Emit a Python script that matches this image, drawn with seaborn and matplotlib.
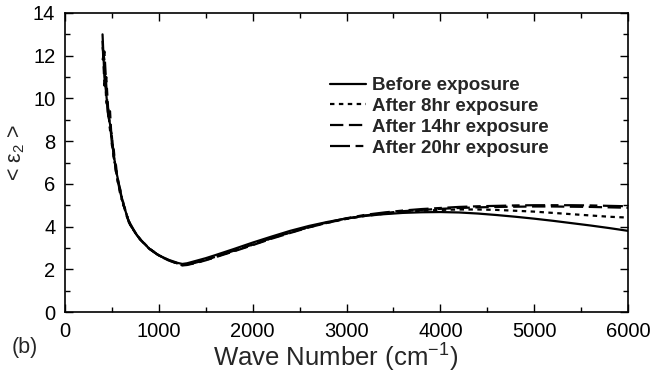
import numpy as np
import pandas as pd
import matplotlib
matplotlib.use("Agg")
import matplotlib.pyplot as plt
import seaborn as sns
from matplotlib.ticker import MultipleLocator

# ---------------- data ----------------
wave_number = [400, 420, 440, 460, 480, 500, 520, 540, 560, 580, 600, 620, 640, 660, 680, 700,
               750, 800, 900, 1000, 1100, 1200, 1250, 1300, 1400, 1500, 1600, 1800, 2000,
               2200, 2400, 2600, 2800, 3000, 3200, 3400, 3600, 3800, 4000, 4200, 4400,
               4600, 4800, 5000, 5200, 5400, 5600, 5800, 6000]

before = [13.0, 11.0, 10.2, 9.2, 8.8, 7.9, 7.4, 6.7, 6.3, 5.8, 5.4, 5.1, 4.8, 4.5, 4.25, 4.05,
          3.7, 3.4, 2.95, 2.65, 2.45, 2.3, 2.25, 2.28, 2.4, 2.52, 2.66, 2.95, 3.25, 3.53, 3.8,
          4.03, 4.22, 4.38, 4.5, 4.58, 4.64, 4.67, 4.68, 4.66, 4.61, 4.54, 4.46, 4.37, 4.27,
          4.16, 4.05, 3.93, 3.8]
after_8hr = [12.4, 11.8, 9.8, 9.6, 8.5, 8.2, 7.1, 6.9, 6.1, 5.9, 5.5, 5.0, 4.85, 4.5, 4.3, 4.0,
             3.72, 3.42, 2.97, 2.66, 2.44, 2.28, 2.2, 2.22, 2.32, 2.44, 2.58, 2.86, 3.15, 3.45,
             3.72, 3.97, 4.18, 4.36, 4.5, 4.6, 4.68, 4.74, 4.78, 4.8, 4.8, 4.78, 4.74, 4.7, 4.64,
             4.58, 4.52, 4.46, 4.42]
after_14hr = [11.8, 12.2, 10.6, 9.1, 9.4, 7.8, 7.6, 6.6, 6.4, 5.7, 5.3, 5.15, 4.75, 4.55, 4.2, 4.05,
              3.7, 3.4, 2.96, 2.64, 2.42, 2.26, 2.18, 2.2, 2.3, 2.42, 2.56, 2.84, 3.13, 3.43, 3.7,
              3.96, 4.18, 4.37, 4.52, 4.63, 4.72, 4.78, 4.83, 4.87, 4.9, 4.92, 4.93, 4.94, 4.94,
              4.93, 4.92, 4.9, 4.88]
after_20hr = [12.7, 10.6, 11.0, 9.5, 8.6, 8.3, 7.2, 7.0, 6.2, 5.9, 5.45, 5.05, 4.8, 4.45, 4.25, 4.1,
              3.71, 3.41, 2.96, 2.65, 2.43, 2.27, 2.2, 2.22, 2.32, 2.44, 2.58, 2.87, 3.16, 3.46,
              3.73, 3.98, 4.2, 4.39, 4.55, 4.66, 4.75, 4.82, 4.87, 4.92, 4.95, 4.97, 4.99, 5.0,
              5.0, 5.0, 4.99, 4.97, 4.95]

labels = ["Before exposure", "After 8hr exposure", "After 14hr exposure", "After 20hr exposure"]
series = [before, after_8hr, after_14hr, after_20hr]

# ---------------- style ----------------
sns.set_style("ticks")
plt.rcParams["font.family"] = ["Liberation Sans", "DejaVu Sans"]
plt.rcParams["mathtext.fontset"] = "custom"
plt.rcParams["mathtext.rm"] = "Liberation Sans"
plt.rcParams["mathtext.it"] = "Liberation Sans"

fig = plt.figure(figsize=(6.61, 3.73), dpi=100)
ax = fig.add_axes([65 / 661, 1 - 312 / 373, (628 - 65) / 661, (312 - 13) / 373])

dash_styles = ["-", (0, (2, 2)), (0, (6, 2.5)), (0, (9, 2.5, 3.5, 2.5))]
for lab, vals, ls in zip(labels, series, dash_styles):
    sns.lineplot(x=wave_number, y=vals, ax=ax, color="black", linewidth=1.6,
                 linestyle=ls, label=lab, sort=False)

ax.set_xlim(0, 6000)
ax.set_ylim(0, 14)
ax.xaxis.set_major_locator(MultipleLocator(1000))
ax.xaxis.set_minor_locator(MultipleLocator(500))
ax.yaxis.set_major_locator(MultipleLocator(2))
ax.yaxis.set_minor_locator(MultipleLocator(1))
ax.tick_params(which="both", direction="in", top=True, right=True, colors="black",
               labelsize=14.5, width=1.0)
ax.tick_params(which="major", length=6, pad=7)
ax.tick_params(which="minor", length=3.5)
for sp in ax.spines.values():
    sp.set_linewidth(1.2)
    sp.set_color("black")

ax.set_xlabel(r"Wave Number (cm$^{\mathregular{-1}}$)", fontsize=18.5)
ax.xaxis.set_label_coords((336 - 65) / 563, (312 - 342) / 299)
ax.set_ylabel(r"< ε$_\mathregular{2}$ >", fontsize=15.5)
ax.yaxis.set_label_coords((27 - 65) / 563, (312 - 153) / 299)

leg = ax.legend(loc="upper left", bbox_to_anchor=((330 - 65) / 563, (312 - 77) / 299),
                frameon=False, prop={"weight": "bold", "size": 13.5}, handlelength=1.9,
                handletextpad=0.35, labelspacing=0.2, borderpad=0, borderaxespad=0)

fig.text(12 / 661, 1 - 348 / 373, "(b)", fontsize=15.5, va="center", ha="left")

fig.savefig("out.png", dpi=100)
